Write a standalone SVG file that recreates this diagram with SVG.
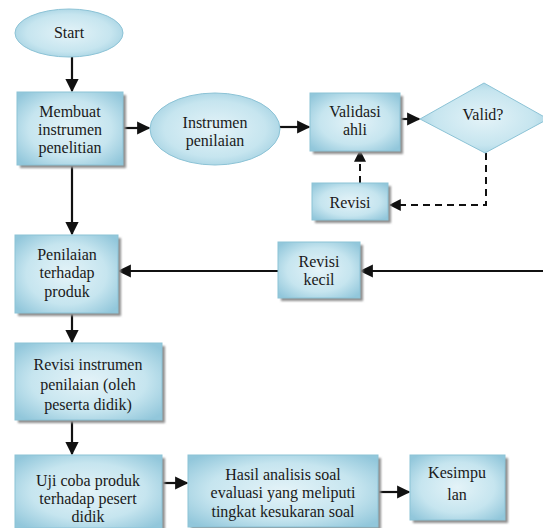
<svg xmlns="http://www.w3.org/2000/svg" width="543" height="528" viewBox="0 0 543 528">
<style>
.box{fill:url(#g);stroke:#8cc3d6;stroke-width:1}
.sh{fill:#8f8f8f;filter:url(#b)}
text{font-family:'Liberation Serif','DejaVu Serif',serif;font-size:16px;fill:#1a1a1a;text-anchor:middle}
.c{stroke:#111;stroke-width:2.2;fill:none}
.d{stroke:#111;stroke-width:2;fill:none;stroke-dasharray:7,5}
</style>
<defs>
<radialGradient id="g" cx="50%" cy="50%" r="65%">
<stop offset="0" stop-color="#e4f3f8"/>
<stop offset="0.6" stop-color="#c6e5ef"/>
<stop offset="1" stop-color="#92c7db"/>
</radialGradient>
<filter id="b" x="-10%" y="-10%" width="120%" height="120%"><feGaussianBlur stdDeviation="1.2"/></filter>
<marker id="a" viewBox="0 0 10 10" refX="9" refY="5" markerWidth="6" markerHeight="6" orient="auto-start-reverse" markerUnits="strokeWidth">
<path d="M0,0 L10,5 L0,10 z" fill="#111"/>
</marker>
</defs>
<rect width="543" height="528" fill="#fff"/>
<g id="connectors">
<line class="c" x1="72" y1="57" x2="72" y2="91" marker-end="url(#a)"/>
<line class="c" x1="123" y1="128" x2="149" y2="128" marker-end="url(#a)"/>
<line class="c" x1="280" y1="127" x2="309" y2="127" marker-end="url(#a)"/>
<line class="c" x1="400" y1="119" x2="419" y2="119" marker-end="url(#a)"/>
<polyline class="d" points="486,153 486,205 390,205" marker-end="url(#a)"/>
<line class="d" x1="360" y1="183" x2="360" y2="151" marker-end="url(#a)"/>
<line class="c" x1="72" y1="165" x2="72" y2="234" marker-end="url(#a)"/>
<line class="c" x1="543" y1="271" x2="361" y2="271" marker-end="url(#a)"/>
<line class="c" x1="278" y1="271" x2="119" y2="271" marker-end="url(#a)"/>
<line class="c" x1="72" y1="313" x2="72" y2="342" marker-end="url(#a)"/>
<line class="c" x1="72" y1="420" x2="72" y2="454" marker-end="url(#a)"/>
<line class="c" x1="162" y1="483" x2="187" y2="483" marker-end="url(#a)"/>
<line class="c" x1="378" y1="492" x2="409" y2="492" marker-end="url(#a)"/>
</g>
<g id="start">
<ellipse class="box" cx="69" cy="33" rx="54" ry="24"/>
<text x="69" y="38">Start</text>
</g>
<g id="membuat">
<rect class="sh" x="20" y="95" width="106" height="73"/>
<rect class="box" x="17" y="92" width="106" height="73"/>
<text x="70" y="117">Membuat</text>
<text x="70" y="135">instrumen</text>
<text x="70" y="153">penelitian</text>
</g>
<g id="instrumen">
<ellipse class="box" cx="215" cy="129" rx="65" ry="36"/>
<text x="215" y="128">Instrumen</text>
<text x="215" y="146">penilaian</text>
</g>
<g id="validasi">
<rect class="sh" x="313" y="96" width="90" height="58"/>
<rect class="box" x="310" y="93" width="90" height="58"/>
<text x="355" y="117">Validasi</text>
<text x="355" y="135">ahli</text>
</g>
<g id="valid">
<polygon class="box" points="420,119 484,83 548,119 485,153"/>
<text x="483" y="120">Valid?</text>
</g>
<g id="revisi">
<rect class="sh" x="315" y="186" width="76" height="37"/>
<rect class="box" x="312" y="183" width="76" height="37"/>
<text x="350" y="208">Revisi</text>
</g>
<g id="penilaian">
<rect class="sh" x="18" y="238" width="103" height="78"/>
<rect class="box" x="15" y="235" width="103" height="78"/>
<text x="67" y="260">Penilaian</text>
<text x="67" y="278">terhadap</text>
<text x="67" y="297">produk</text>
</g>
<g id="revisi-kecil">
<rect class="sh" x="281" y="245" width="82" height="56"/>
<rect class="box" x="278" y="242" width="82" height="56"/>
<text x="319" y="267">Revisi</text>
<text x="319" y="285">kecil</text>
</g>
<g id="revisi-instrumen">
<rect class="sh" x="18" y="346" width="147" height="77"/>
<rect class="box" x="15" y="343" width="147" height="77"/>
<text x="88" y="370">Revisi instrumen</text>
<text x="88" y="390">penilaian (oleh</text>
<text x="88" y="410">peserta didik)</text>
</g>
<g id="uji-coba">
<rect class="sh" x="18" y="458" width="147" height="73"/>
<rect class="box" x="15" y="455" width="147" height="73"/>
<text x="88" y="486">Uji coba produk</text>
<text x="88" y="504">terhadap pesert</text>
<text x="88" y="522">didik</text>
</g>
<g id="hasil">
<rect class="sh" x="191" y="458" width="190" height="72"/>
<rect class="box" x="188" y="455" width="190" height="72"/>
<text x="283" y="480">Hasil analisis soal</text>
<text x="283" y="498">evaluasi yang meliputi</text>
<text x="283" y="517">tingkat kesukaran soal</text>
</g>
<g id="kesimpulan">
<rect class="sh" x="413" y="458" width="95" height="65"/>
<rect class="box" x="410" y="455" width="95" height="65"/>
<text x="457" y="478">Kesimpu</text>
<text x="457" y="500">lan</text>
</g>
</svg>
